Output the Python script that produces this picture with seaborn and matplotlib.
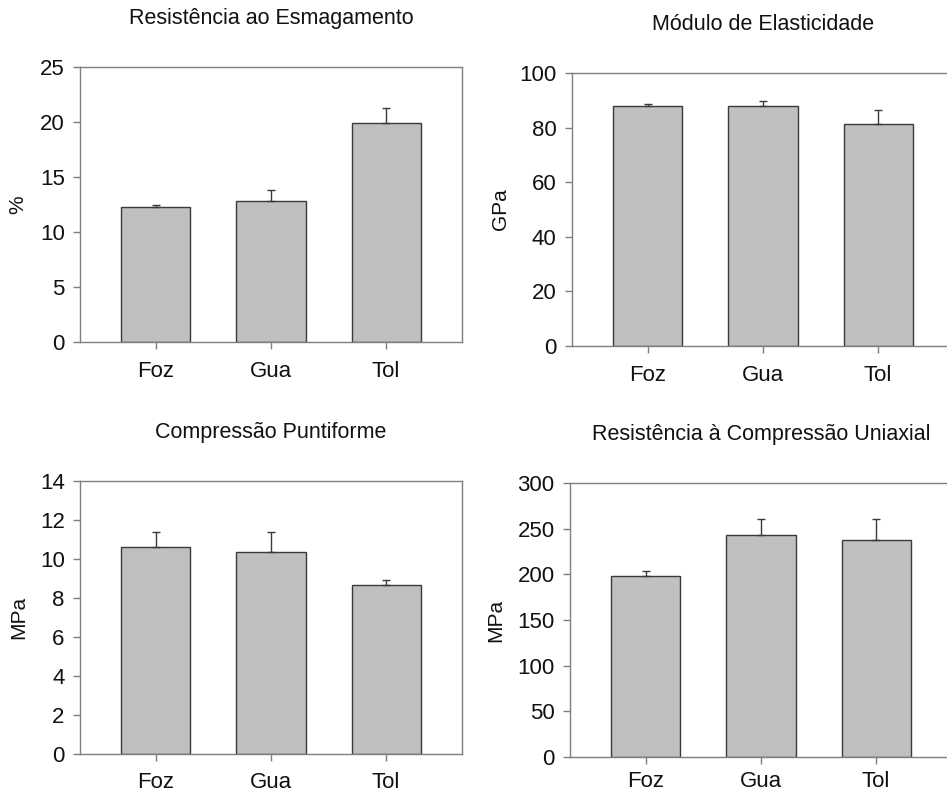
import numpy as np
import pandas as pd
import seaborn as sns
import matplotlib.pyplot as plt

# data (mean, upper error)
sites = ["Foz", "Gua", "Tol"]

esmag = [12.3, 12.8, 19.9]
esmag_err = [0.2, 1.0, 1.4]

elast = [88.0, 88.0, 81.5]
elast_err = [0.8, 1.7, 5.0]

punt = [10.6, 10.35, 8.65]
punt_err = [0.8, 1.05, 0.25]

uniax = [198, 243, 238]
uniax_err = [6, 18, 23]

titles = ["Resistência ao Esmagamento", "Módulo de Elasticidade",
          "Compressão Puntiforme", "Resistência à Compressão Uniaxial"]
ylabels = ["%", "GPa", "MPa", "MPa"]
ylims = [(0, 25), (0, 100), (0, 14), (0, 300)]
ysteps = [5, 20, 2, 50]

sns.set_theme(style="white")
plt.rcParams['font.family'] = ['Liberation Sans', 'DejaVu Sans']

W, H = 947, 794
fig = plt.figure(figsize=(W / 100, H / 100), dpi=100)

# axes boxes in pixels: left, top, right, bottom
boxes = [(80, 67, 462, 342), (572, 73, 954, 346),
         (80, 481, 462, 754), (570, 483, 952, 757)]
label_x = [-53, -62, -52, -65]
xpads = [9, 9, 8, 5]

series = [(esmag, esmag_err), (elast, elast_err), (punt, punt_err), (uniax, uniax_err)]

spine_col = "#7f7f7f"
for i, (l, t, r, b) in enumerate(boxes):
    ax = fig.add_axes([l / W, (H - b) / H, (r - l) / W, (b - t) / H])
    vals, err = series[i]
    df = pd.DataFrame({"site": sites, "val": vals})
    sns.barplot(data=df, x="site", y="val", color="#c0c0c0", saturation=1,
                edgecolor="#3a3a3a", linewidth=1.0, width=0.6, errorbar=None, ax=ax)
    ax.errorbar(np.arange(len(sites)), vals, yerr=[np.zeros(len(err)), err],
                fmt="none", ecolor="#3a3a3a", elinewidth=1.0, capsize=3, capthick=1.0)
    ax.set_xlim(-0.66, 2.66)
    ax.set_ylim(*ylims[i])
    ax.set_yticks(np.arange(ylims[i][0], ylims[i][1] + 0.001, ysteps[i]))
    ax.set_title(titles[i], fontsize=15.5, pad=31, color="#111111")
    ax.set_xlabel("")
    ax.set_ylabel(ylabels[i], fontsize=15, color="#111111")
    ax.yaxis.set_label_coords(label_x[i] / (r - l), 0.5)
    for s in ax.spines.values():
        s.set_color(spine_col)
        s.set_linewidth(1.0)
        s.set_visible(True)
    ax.tick_params(axis="y", direction="out", length=5, width=1, color=spine_col,
                   pad=6, labelsize=16, labelcolor="#111111", left=True)
    ax.tick_params(axis="x", direction="out", length=5, width=1, color=spine_col,
                   pad=xpads[i], labelsize=16, labelcolor="#111111", bottom=True)

fig.savefig("out.png", dpi=100)
